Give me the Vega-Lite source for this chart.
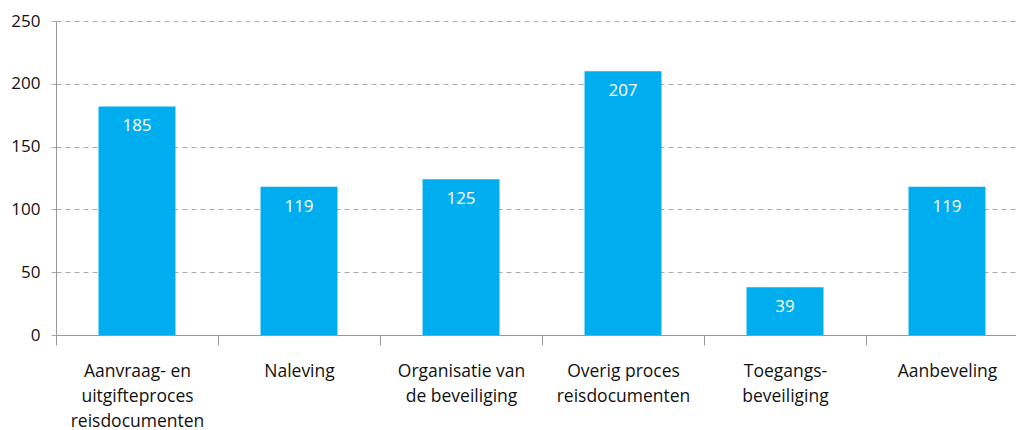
{
  "$schema": "https://vega.github.io/schema/vega-lite/v6.json",
  "width": 972,
  "height": 314,
  "autosize": "none",
  "padding": {"left": 56, "top": 21, "right": 0, "bottom": 95},
  "config": {"view": {"stroke": null}, "font": "Open Sans"},
  "data": {
    "values": [
      {"categorie": "Aanvraag- en|uitgifteproces|reisdocumenten", "hoogte": 182, "label": "185"},
      {"categorie": "Naleving", "hoogte": 118, "label": "119"},
      {"categorie": "Organisatie van|de beveiliging", "hoogte": 124, "label": "125"},
      {"categorie": "Overig proces|reisdocumenten", "hoogte": 210, "label": "207"},
      {"categorie": "Toegangs-|beveiliging", "hoogte": 38, "label": "39"},
      {"categorie": "Aanbeveling", "hoogte": 118, "label": "119"}
    ]
  },
  "encoding": {
    "x": {
      "field": "categorie",
      "type": "nominal",
      "sort": null,
      "scale": {"paddingInner": 0, "paddingOuter": 0},
      "axis": {
        "title": null,
        "labelAngle": 0,
        "labelExpr": "isValid(datum.value) ? split(datum.value, '|') : ''",
        "tickBand": "extent",
        "domainColor": "#999999",
        "tickColor": "#999999",
        "tickSize": 10,
        "labelFontSize": 17.5,
        "labelColor": "#111111",
        "labelPadding": 17,
        "labelBaseline": "top",
        "labelLineHeight": 25,
        "labelFont": "Open Sans"
      }
    },
    "y": {
      "field": "hoogte",
      "type": "quantitative",
      "scale": {"domain": [0, 250], "nice": false},
      "axis": {
        "title": null,
        "values": [0, 50, 100, 150, 200, 250],
        "grid": true,
        "gridDash": [5, 4],
        "gridColor": "#aaaaaa",
        "tickDash": [5, 4],
        "tickColor": "#aaaaaa",
        "tickSize": 9,
        "domainColor": "#999999",
        "labelFontSize": 17,
        "labelPadding": 7,
        "labelColor": "#111111",
        "labelFont": "Open Sans"
      }
    }
  },
  "layer": [
    {"mark": {"type": "bar", "color": "#00aeef", "width": {"band": 0.475}}},
    {
      "mark": {"type": "text", "color": "white", "fontSize": 17, "baseline": "middle", "dy": 20},
      "encoding": {"text": {"field": "label"}}
    }
  ]
}
